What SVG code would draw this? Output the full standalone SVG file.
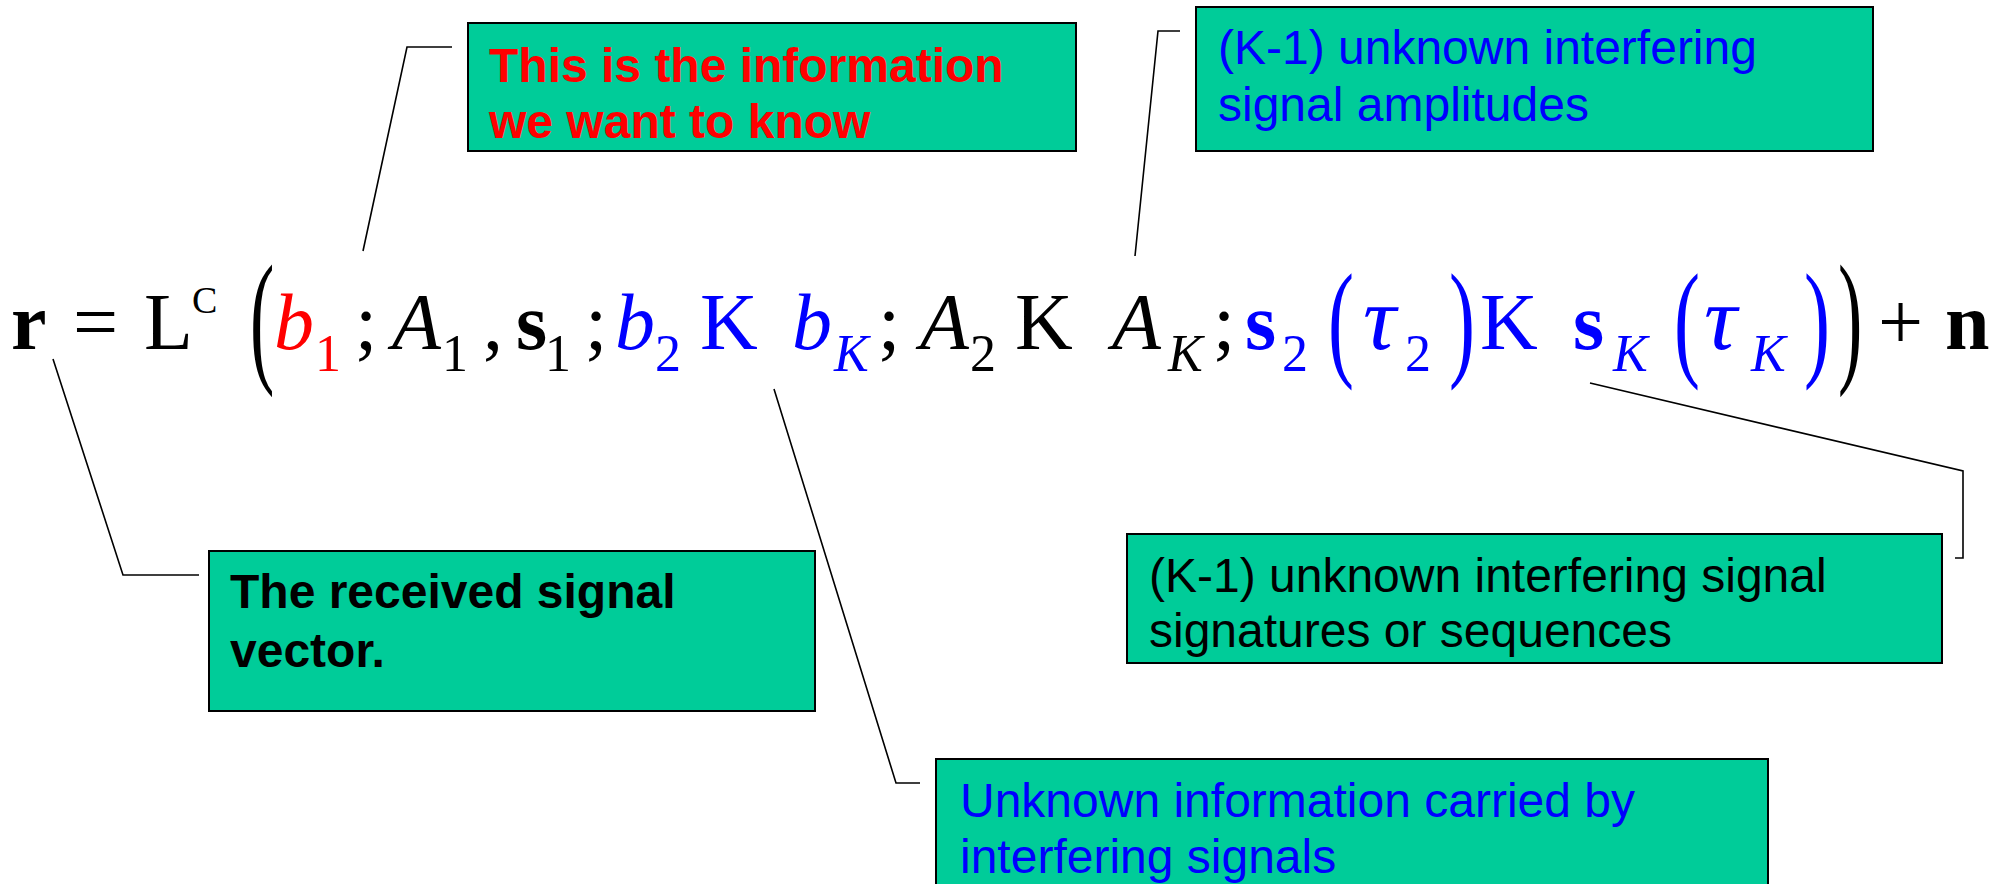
<svg xmlns="http://www.w3.org/2000/svg" width="2009" height="884" viewBox="0 0 2009 884">
<style>
.bg{fill:#ffffff}
.box{fill:#00CC99;stroke:#000;stroke-width:2}
.lbl{font-family:"Liberation Sans",Arial,sans-serif;font-size:48px}
.m{font-family:"Liberation Serif","Times New Roman",serif;font-size:80px;fill:#000}
.bold{font-weight:bold}
.red{fill:#FF0000}
.blue{fill:#0000FF}
.blk{fill:#000000}
.sub{font-size:52px}
.up{font-style:normal}
.sup{font-size:38px}
.it{font-style:italic}
.bigp{font-size:146px}
.midp{font-size:130px}
.tau{font-size:92px}
.conn{fill:none;stroke:#000;stroke-width:1.6}
</style>
<rect class="bg" x="0" y="0" width="2009" height="884"/>

<g id="connectors">
  <polyline class="conn" points="452,47 407,47 363,251"/>
  <polyline class="conn" points="1180,31 1158,31 1135,256"/>
  <polyline class="conn" points="53,359 123,575 199,575"/>
  <polyline class="conn" points="1590,383 1963,471 1963,558 1955,558"/>
  <polyline class="conn" points="774,389 896,783 920,783"/>
</g>

<g id="equation">
  <text class="m bold" x="11" y="349">r</text>
  <text class="m" x="73" y="349">=</text>
  <text class="m" x="144" y="349">L<tspan class="sup" x="192" y="313">C</tspan></text>
  <text class="m bigp" transform="translate(250,366) scale(0.5,1)">(</text>
  <text class="m it red" x="274" y="349">b</text>
  <text class="m sub red" x="315" y="371">1</text>
  <text class="m" x="355" y="349">;</text>
  <text class="m it" x="392" y="349">A</text>
  <text class="m sub" x="442" y="371">1</text>
  <text class="m" x="483" y="349">,</text>
  <text class="m bold" x="516" y="349">s<tspan class="sub" style="font-weight:normal" x="545" y="371">1</tspan></text>
  <text class="m" x="585" y="349">;</text>
  <text class="m it blue" x="615" y="349">b<tspan class="sub up" x="655" y="371">2</tspan></text>
  <text class="m blue" x="700" y="349">K</text>
  <text class="m it blue" x="792" y="349">b<tspan class="sub" x="834" y="371">K</tspan></text>
  <text class="m" x="878" y="349">;</text>
  <text class="m it" x="920" y="349">A<tspan class="sub up" x="970" y="371">2</tspan></text>
  <text class="m" x="1015" y="349">K</text>
  <text class="m it" x="1112" y="349">A<tspan class="sub" x="1168" y="371">K</tspan></text>
  <text class="m" x="1213" y="349">;</text>
  <text class="m bold blue" x="1245" y="349">s<tspan class="sub" style="font-weight:normal" x="1282" y="371">2</tspan></text>
  <text class="m blue midp" transform="translate(1328,363) scale(0.6,1)">(</text>
  <text class="m it blue tau" x="1363" y="349">τ<tspan class="sub up" x="1405" y="371">2</tspan></text>
  <text class="m blue midp" transform="translate(1449,363) scale(0.6,1)">)</text>
  <text class="m blue" x="1480" y="349">K</text>
  <text class="m bold blue" x="1573" y="349">s<tspan class="sub it" style="font-weight:normal" x="1613" y="371">K</tspan></text>
  <text class="m blue midp" transform="translate(1674,363) scale(0.6,1)">(</text>
  <text class="m it blue tau" x="1704" y="349">τ<tspan class="sub" x="1751" y="371">K</tspan></text>
  <text class="m blue midp" transform="translate(1804,363) scale(0.6,1)">)</text>
  <text class="m bigp" transform="translate(1838,366) scale(0.5,1)">)</text>
  <text class="m" x="1878" y="349">+</text>
  <text class="m bold" x="1945" y="349">n</text>
</g>

<g id="node-info">
  <rect class="box" x="468" y="23" width="608" height="128"/>
  <text class="lbl bold red" x="489" y="82">This is the information</text>
  <text class="lbl bold red" x="489" y="138">we want to know</text>
</g>

<g id="node-amplitudes">
  <rect class="box" x="1196" y="7" width="677" height="144"/>
  <text class="lbl blue" x="1218" y="64">(K-1) unknown interfering</text>
  <text class="lbl blue" x="1218" y="121">signal amplitudes</text>
</g>

<g id="node-received">
  <rect class="box" x="209" y="551" width="606" height="160"/>
  <text class="lbl bold blk" x="230" y="608">The received signal</text>
  <text class="lbl bold blk" x="230" y="667">vector.</text>
</g>

<g id="node-signatures">
  <rect class="box" x="1127" y="534" width="815" height="129"/>
  <text class="lbl blk" x="1149" y="592">(K-1) unknown interfering signal</text>
  <text class="lbl blk" x="1149" y="647">signatures or sequences</text>
</g>

<g id="node-unknown-info">
  <rect class="box" x="936" y="759" width="832" height="140"/>
  <text class="lbl blue" x="960" y="817">Unknown information carried by</text>
  <text class="lbl blue" x="960" y="873">interfering signals</text>
</g>
</svg>
